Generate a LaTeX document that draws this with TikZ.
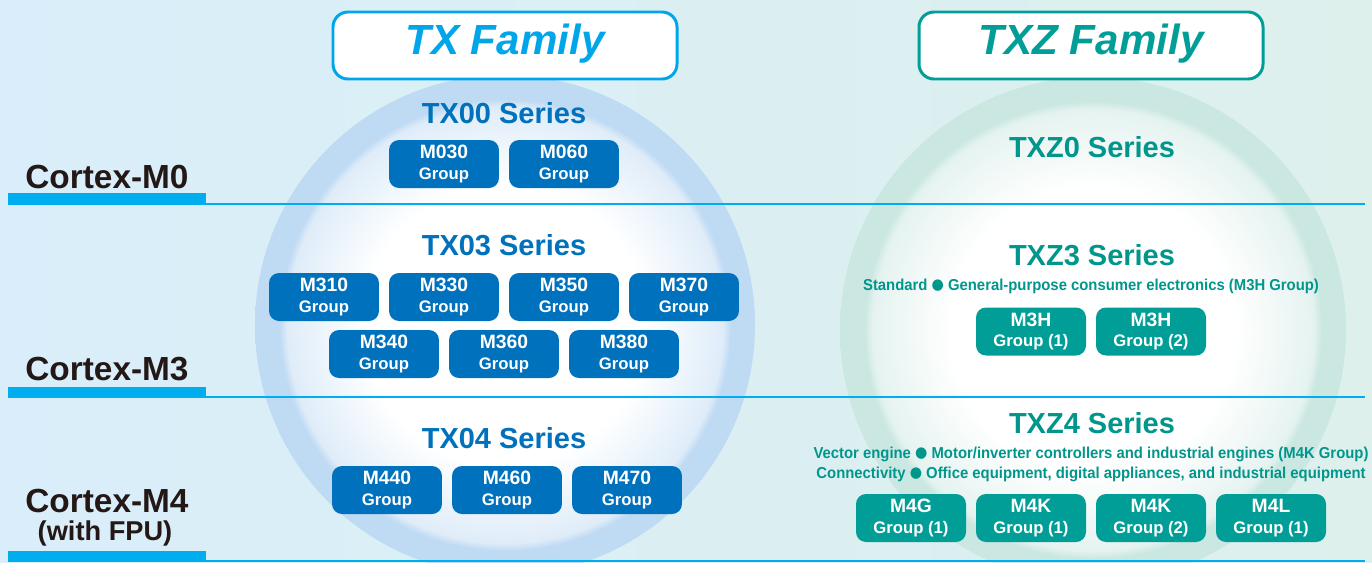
\documentclass[tikz,border=0pt]{standalone}
\usepackage{fontspec}
\usepackage{graphicx}
\setmainfont{Liberation Sans}
\newfontfamily\dejavu{DejaVu Sans}
\definecolor{cyanline}{HTML}{00AEEF}
\definecolor{txblue}{HTML}{0071BC}
\definecolor{famcyan}{HTML}{00A6E9}
\definecolor{tealc}{HTML}{009E96}
\definecolor{tealtxt}{HTML}{00968C}
\definecolor{blk}{HTML}{231815}
\definecolor{bgblue}{HTML}{D9EEFA}
\definecolor{bgteal}{HTML}{DDF0EC}
\definecolor{ringblue}{HTML}{BFDAF3}
\definecolor{ringteal}{HTML}{CBE7E1}
\pgfdeclareradialshading{blueglow}{\pgfpoint{0bp}{0bp}}{color(0bp)=(white); color(14bp)=(white); color(21.8bp)=(ringblue!50); color(22.6bp)=(ringblue); color(25bp)=(ringblue); color(50bp)=(ringblue)}
\pgfdeclareradialshading{tealglow}{\pgfpoint{0bp}{0bp}}{color(0bp)=(white); color(14bp)=(white); color(21.8bp)=(ringteal!50); color(22.6bp)=(ringteal); color(25bp)=(ringteal); color(50bp)=(ringteal)}
\newcommand\fs[1]{\fontsize{#1pt}{#1pt}\selectfont}
\newcommand\dotc{{\dejavu\raisebox{0.5pt}{\scalebox{0.95}{●}}}}
\tikzset{
  grpbox/.style={rounded corners=0.2cm, minimum width=2.2cm, minimum height=0.96cm,
    inner sep=0pt, text=white, align=center, font=\bfseries},
  blueg/.style={grpbox, fill=txblue},
  tealg/.style={grpbox, fill=tealc},
  series/.style={anchor=base, font=\bfseries\fs{16.5}},
  cortex/.style={anchor=base west, inner sep=0pt, text=blk, font=\bfseries\fs{19}},
  famtext/.style={font=\bfseries\itshape\fs{24}},
  desc/.style={anchor=base, text=tealtxt, font=\bfseries\fs{9}},
}
\newcommand\gbox[5]{\node[#1] (#2) at (#3) {\fs{11}#4\\[-0.5pt]\fs{9.5}#5};}
\begin{document}
\begin{tikzpicture}[x=0.02cm,y=-0.02cm]
\useasboundingbox (0,0) rectangle (1372,562);
\begin{scope}
\clip (0,0) rectangle (1372,562);
% background
\shade[left color=bgblue, middle color=white, right color=bgteal] (0,0) rectangle (1372,562);
% circles
\shade[shading=blueglow] (505,325) circle (250);
\shade[shading=tealglow] (1093,330) circle (253);
% horizontal lines
\foreach \y/\t in {204/193, 397/387, 561/551} {
  \fill[cyanline] (8,\y-1.2) rectangle (1365,\y+1.2);
  \fill[cyanline] (8,\t) rectangle (206,\y+1.2);
}
\end{scope}
% family header boxes
\draw[famcyan, line width=1.7pt, fill=white, rounded corners=0.3cm] (333,12) rectangle (677,79);
\node[famtext, text=famcyan] (txfam) at (505,44) {TX Family};
\draw[tealc, line width=1.7pt, fill=white, rounded corners=0.3cm] (919,12) rectangle (1263,79);
\node[famtext, text=tealc] (txzfam) at (1091,44) {TXZ Family};
% cortex labels
\node[cortex] (m0) at (25,188) {Cortex-M0};
\node[cortex] (m3) at (25,380) {Cortex-M3};
\node[cortex] (m4) at (25,512) {Cortex-M4};
\node[anchor=base, text=blk, font=\bfseries\fs{15.5}] (fpu) at (105,540) {(with FPU)};
% TX series
\node[series, text=txblue] (tx00) at (504,123) {TX00 Series};
\gbox{blueg}{m030}{444,164}{M030}{Group}
\gbox{blueg}{m060}{564,164}{M060}{Group}
\node[series, text=txblue] (tx03) at (504,255) {TX03 Series};
\gbox{blueg}{m310}{324,297}{M310}{Group}
\gbox{blueg}{m330}{444,297}{M330}{Group}
\gbox{blueg}{m350}{564,297}{M350}{Group}
\gbox{blueg}{m370}{684,297}{M370}{Group}
\gbox{blueg}{m340}{384,354}{M340}{Group}
\gbox{blueg}{m360}{504,354}{M360}{Group}
\gbox{blueg}{m380}{624,354}{M380}{Group}
\node[series, text=txblue] (tx04) at (504,448) {TX04 Series};
\gbox{blueg}{m440}{387,490}{M440}{Group}
\gbox{blueg}{m460}{507,490}{M460}{Group}
\gbox{blueg}{m470}{627,490}{M470}{Group}
% TXZ series
\node[series, text=tealtxt] (txz0) at (1092,157) {TXZ0 Series};
\node[series, text=tealtxt] (txz3) at (1092,265) {TXZ3 Series};
\node[desc] (d3) at (1091,290) {\scalebox{0.94}[1]{Standard \dotc\ General-purpose consumer electronics (M3H Group)}};
\gbox{tealg}{m3h1}{1031,331.5}{M3H}{Group (1)}
\gbox{tealg}{m3h2}{1151,331.5}{M3H}{Group (2)}
\node[series, text=tealtxt] (txz4) at (1092,433) {TXZ4 Series};
\node[desc] (d4a) at (1091,458) {\scalebox{0.94}[1]{Vector engine \dotc\ Motor/inverter controllers and industrial engines (M4K Group)}};
\node[desc] (d4b) at (1091,478) {\scalebox{0.94}[1]{Connectivity \dotc\ Office equipment, digital appliances, and industrial equipment}};
\gbox{tealg}{m4g1}{911,518}{M4G}{Group (1)}
\gbox{tealg}{m4k1}{1031,518}{M4K}{Group (1)}
\gbox{tealg}{m4k2}{1151,518}{M4K}{Group (2)}
\gbox{tealg}{m4l1}{1271,518}{M4L}{Group (1)}
\end{tikzpicture}
\end{document}
